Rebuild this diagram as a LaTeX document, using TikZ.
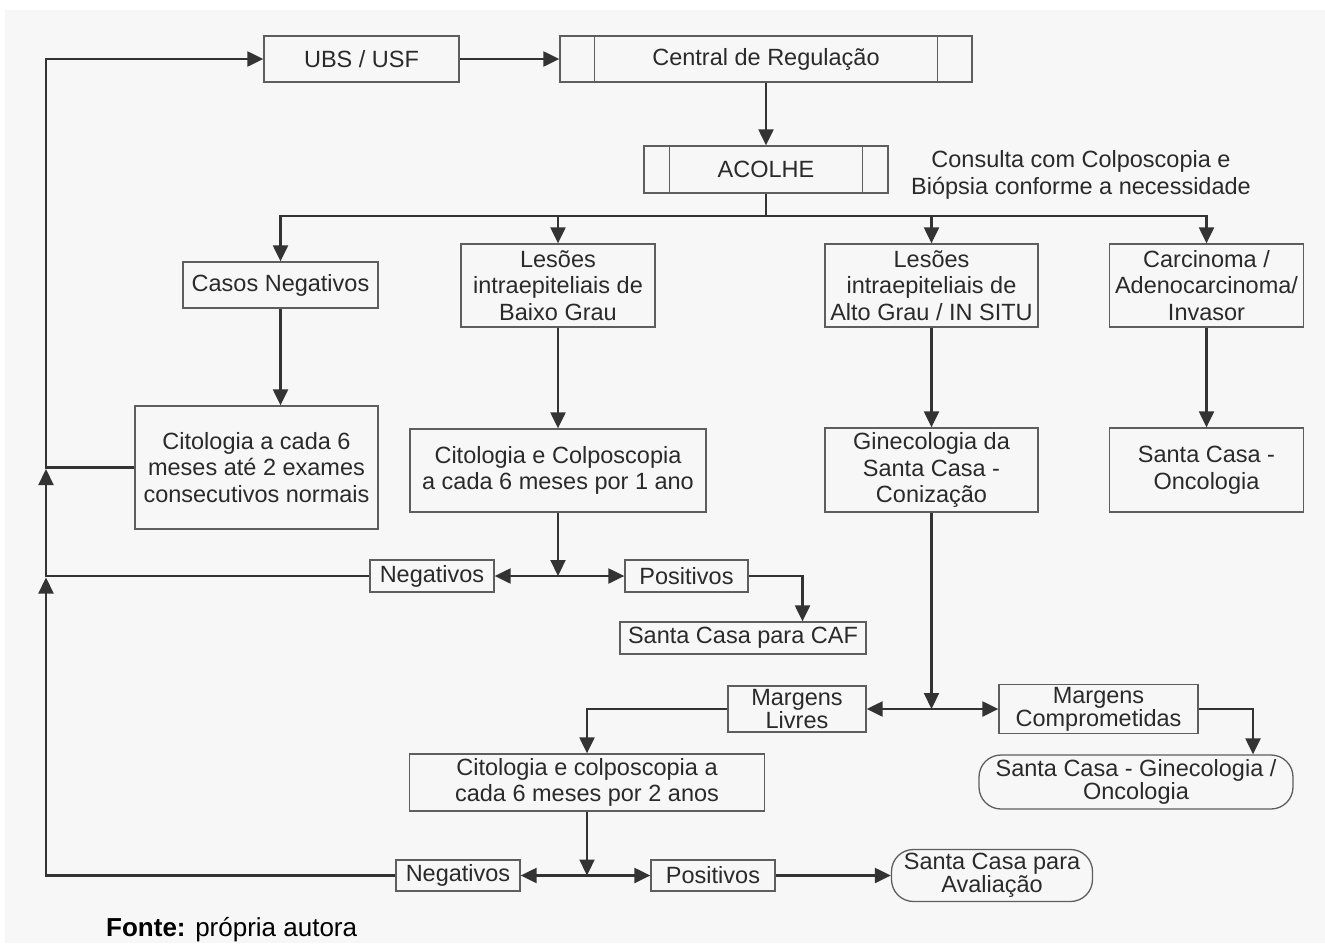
\documentclass[tikz,border=0pt]{standalone}
\usepackage{fontspec}
\setmainfont{Liberation Sans}
\usetikzlibrary{arrows.meta,calc}

\definecolor{bgc}{HTML}{F7F7F7}
\definecolor{linec}{HTML}{333333}
\definecolor{boxc}{HTML}{5E5E5E}
\definecolor{txt}{HTML}{2A2A2A}

\newcommand\fsnormal{\fontsize{23.5}{26.5}\selectfont}
\newcommand\fstight{\fontsize{23.5}{21}\selectfont}
\newcommand\fsnarrow{\fontsize{23.5}{19}\selectfont}

\tikzset{
  box/.style={draw=boxc, line width=1.3pt, inner sep=0pt, align=center,
              text=txt, font=\fsnormal},
  tight/.style={font=\fstight},
  pill/.style={box, rounded corners=22pt},
  link/.style={draw=linec, line width=2.2pt},
  arr/.style={link, -{Triangle[length=16pt,width=15pt]}},
  inner line/.style={draw=boxc, line width=1.3pt}
}

\begin{document}
\begin{tikzpicture}[x=1pt, y=-1pt]
  % canvas and grey panel
  \fill[white] (0,0) rectangle (1325,945);
  \useasboundingbox (0,0) rectangle (1325,945);
  \fill[bgc] (5,10) rectangle (1325,943);

  % top row
  \node[box, minimum width=195pt, minimum height=46pt] (ubs) at (361.5,59) {UBS / USF};
  \node[box, minimum width=412pt, minimum height=46pt] (central) at (766,59) {Central de Regulação};
  \draw[inner line] ([xshift=35pt]central.north west) -- ([xshift=35pt]central.south west);
  \draw[inner line] ([xshift=-35pt]central.north east) -- ([xshift=-35pt]central.south east);

  \node[box, minimum width=244pt, minimum height=47pt] (acolhe) at (766,169.5) {ACOLHE};
  \draw[inner line] ([xshift=26pt]acolhe.north west) -- ([xshift=26pt]acolhe.south west);
  \draw[inner line] ([xshift=-26pt]acolhe.north east) -- ([xshift=-26pt]acolhe.south east);
  \node[align=center, inner sep=0pt, text=txt, font=\fsnormal] (nota) at (1081,175)
    {Consulta com Colposcopia e\\Biópsia conforme a necessidade};

  % first level of findings
  \node[box, minimum width=195pt, minimum height=46pt] (casos) at (280.5,285) {Casos Negativos};
  \node[box, minimum width=194pt, minimum height=83pt] (lbg) at (558,285.5)
    {Lesões\\intraepiteliais de\\Baixo Grau};
  \node[box, minimum width=213pt, minimum height=83pt] (lag) at (931.5,285.5)
    {Lesões\\intraepiteliais de\\Alto Grau / IN SITU};
  \node[box, minimum width=194pt, minimum height=83pt] (carc) at (1206.5,285.5)
    {Carcinoma /\\Adenocarcinoma/\\Invasor};

  % follow-up
  \node[box, minimum width=243pt, minimum height=123pt] (cit1) at (256.5,467.5)
    {Citologia a cada 6\\meses até 2 exames\\consecutivos normais};
  \node[box, minimum width=296pt, minimum height=83pt] (cit2) at (558,470.5)
    {Citologia e Colposcopia\\a cada 6 meses por 1 ano};
  \node[box, minimum width=213pt, minimum height=84pt] (gine) at (931.5,470)
    {Ginecologia da\\Santa Casa -\\Conização};
  \node[box, minimum width=194pt, minimum height=84pt] (onco) at (1206.5,470)
    {Santa Casa -\\Oncologia};

  \node[box, minimum width=124pt, minimum height=32pt] (neg1) at (432,576) {Negativos};
  \node[box, minimum width=123pt, minimum height=32pt] (pos1) at (686.5,576) {Positivos};
  \node[box, minimum width=246pt, minimum height=32pt] (caf) at (743,638) {Santa Casa para CAF};

  \node[box, tight, minimum width=138pt, minimum height=46pt] (ml) at (797,709) {Margens\\Livres};
  \node[box, tight, minimum width=199pt, minimum height=49pt] (mc) at (1098.5,709) {Margens\\Comprometidas};

  \node[box, minimum width=355pt, minimum height=57pt] (cit3) at (587,782.5)
    {Citologia e colposcopia a\\cada 6 meses por 2 anos};
  \node[pill, tight, minimum width=314pt, minimum height=54pt] (scgo) at (1136,782)
    {Santa Casa - Ginecologia /\\Oncologia};

  \node[box, minimum width=124pt, minimum height=31pt] (neg2) at (458,875.5) {Negativos};
  \node[box, minimum width=124pt, minimum height=31pt] (pos2) at (713,875.5) {Positivos};
  \node[pill, font=\fsnarrow, minimum width=201pt, minimum height=52pt] (sca) at (992,875.5)
    {Santa Casa para\\Avaliação};

  % source line
  \node[anchor=base west, inner sep=0pt, text=black, font=\fontsize{26}{30}\selectfont] (fonte)
    at (106,936) {\textbf{Fonte:} própria autora};

  % helper points
  \coordinate (br) at (766,216);
  \coordinate (j1) at (cit2.south |- neg1.center);
  \coordinate (j2) at (gine.south |- ml.center);
  \coordinate (j3) at (cit3.south |- neg2.center);
  \coordinate (cafin) at ([xshift=59.5pt]caf.north);
  \coordinate (scgoin) at ([xshift=117pt]scgo.north);
  \coordinate (topleft) at (46,59);
  \coordinate (k1) at (46,467.5);
  \coordinate (k2) at (46,576);
  \coordinate (k3) at (46,875.5);

  % main flow
  \draw[arr] (ubs) -- (central);
  \draw[arr] (central) -- (acolhe);
  \draw[link] (acolhe.south) -- (br);
  \draw[arr] (br) -| (casos.north);
  \draw[arr] (br) -| (carc.north);
  \draw[arr] (lbg.north |- br) -- (lbg.north);
  \draw[arr] (lag.north |- br) -- (lag.north);

  \draw[arr] (casos.south) -- (casos.south |- cit1.north);
  \draw[arr] (lbg) -- (cit2);
  \draw[arr] (lag) -- (gine);
  \draw[arr] (carc) -- (onco);

  % low-grade follow-up outcomes
  \draw[arr] (cit2.south) -- (j1);
  \draw[arr] (j1) -- (neg1.east);
  \draw[arr] (j1) -- (pos1.west);
  \draw[arr] (pos1.east) -| (cafin);

  % conization outcomes
  \draw[arr] (gine.south) -- (j2);
  \draw[arr] (j2) -- (ml.east);
  \draw[arr] (j2) -- (mc.west);
  \draw[arr] (ml.west) -| (cit3.north);
  \draw[arr] (mc.east) -| (scgoin);

  \draw[arr] (cit3.south) -- (j3);
  \draw[arr] (j3) -- (neg2.east);
  \draw[arr] (j3) -- (pos2.west);
  \draw[arr] (pos2.east) -- (sca.west);

  % return loops to the health unit
  \draw[arr] (neg2.west) -- (k3) -- ([yshift=-1.5pt]k2);
  \draw[arr] (neg1.west) -- (k2) -- ([yshift=-1.5pt]k1);
  \draw[arr] (cit1.west) -- (k1) -- (topleft) -- (ubs.west);
\end{tikzpicture}
\end{document}
